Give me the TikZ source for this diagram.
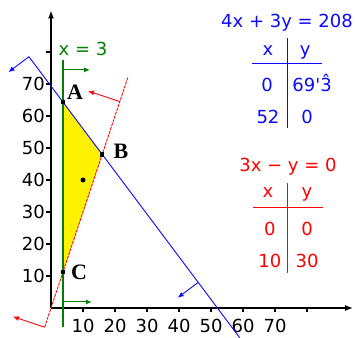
\documentclass[tikz,border=0pt]{standalone}
\usepackage{fontspec}
\setmainfont{DejaVu Sans}
\newfontfamily\serfont{Liberation Serif}
\usetikzlibrary{arrows.meta}
\definecolor{gblue}{RGB}{10,10,255}
\definecolor{gred}{RGB}{255,0,0}
\definecolor{ggreen}{RGB}{0,128,0}
\newcommand{\hatthree}{\ooalign{3\cr\hidewidth\raisebox{0.22em}{\char"02C6}\hidewidth}}

\begin{document}
\begin{tikzpicture}[x=3.2pt, y=3.2pt,
    txt/.style={font=\fontsize{18}{20}\selectfont, inner sep=0pt, anchor=base},
    lbl/.style={font=\serfont\bfseries\fontsize{22}{24}\selectfont, inner sep=0pt},
    pt/.style={rectangle, fill=black, minimum size=4.5pt, inner sep=0pt},
    arr/.style={-{Latex[length=6pt,width=5pt]}},
    axis/.style={line width=1.6pt, -{Latex[length=8pt,width=6pt]}},
    lne/.style={line width=0.9pt}
  ]
  \useasboundingbox (-15.94,-9.375) rectangle (95,96.25);

  % feasible region
  \coordinate (A) at (3.75,64.33);
  \coordinate (B) at (16,48);
  \coordinate (C) at (3.75,11.25);
  \fill[yellow] (A) -- (B) -- (C) -- cycle;

  % axes
  \draw[axis] (0,0) -- (0,93);
  \draw[axis] (0,0) -- (94.4,0);
  \foreach \v in {10,20,...,80} {
    \draw[line width=1.2pt] (0,\v) -- (-1.6,\v);
    \draw[line width=1.2pt] (\v,0) -- (\v,-1.3);
  }
  \foreach \v in {10,20,...,70} {
    \node[txt, anchor=east] (ylab\v) at (-1.9,\v) {\v};
    \node[txt] (xlab\v) at (\v,-7.8) {\v};
  }

  % 4x + 3y = 208
  \coordinate (b1) at (-6.9,78.53);
  \coordinate (b2) at (59,-9.33);
  \coordinate (b1s) at (-13.3,73.7);
  \coordinate (bm) at (46,8);
  \coordinate (bms) at (39.6,3.2);
  \draw[lne, gblue] (b1) -- (b2);
  \draw[lne, gblue, arr] (b1) -- (b1s);
  \draw[lne, gblue, arr] (bm) -- (bms);

  % 3x - y = 0
  \coordinate (r1) at (-2,-6);
  \coordinate (r2) at (24.1,72.3);
  \coordinate (r1s) at (-11.9,-2.7);
  \coordinate (rm) at (21.5,64.5);
  \coordinate (rms) at (11.6,67.8);
  \draw[lne, gred, dash pattern=on 3pt off 1pt] (r1) -- (r2);
  \draw[lne, gred, arr] (r1) -- (r1s);
  \draw[lne, gred, arr] (rm) -- (rms);

  % x = 3
  \coordinate (g1) at (3.75,77.5);
  \coordinate (g2) at (3.75,-5.9);
  \coordinate (gt) at (3.75,74.4);
  \coordinate (gte) at (12.2,74.4);
  \coordinate (gb) at (3.75,1.9);
  \coordinate (gbe) at (12.8,1.9);
  \draw[ggreen, line width=1.5pt] (g1) -- (g2);
  \draw[ggreen, line width=1pt, arr] (gt) -- (gte);
  \draw[ggreen, line width=1pt, arr] (gb) -- (gbe);
  \node[txt, ggreen] (geq) at (10,79.06) {x = 3};

  % vertices
  \node[pt] (pA) at (A) {};
  \node[pt] (pB) at (B) {};
  \node[pt] (pC) at (C) {};
  \node[circle, fill=black, minimum size=5pt, inner sep=0pt] (P) at (10,40) {};
  \node[lbl] (labA) at (7.5,67.5) {A};
  \node[lbl] (labB) at (21.9,49.1) {B};
  \node[lbl] (labC) at (8.75,11.25) {C};

  % table for 4x + 3y = 208
  \node[txt, gblue] (beq) at (73.75,87.5) {4x + 3y = 208};
  \node[txt, gblue] (bhx) at (67.8,79.06) {x};
  \node[txt, gblue] (bhy) at (79.4,79.06) {y};
  \node[txt, gblue] (bx1) at (67.5,67.5) {0};
  \node[txt, gblue] (by1) at (81.6,67.5) {69\textquotesingle\hatthree};
  \node[txt, gblue] (bx2) at (67.8,57.8) {52};
  \node[txt, gblue] (by2) at (80,57.8) {0};
  \draw[gblue, line width=1pt] (73.75,84.4) -- (73.75,56.25);
  \draw[gblue, line width=1pt] (62.8,76.56) -- (84.7,76.56);

  % table for 3x - y = 0
  \node[txt, gred] (req) at (74.06,42.5) {3x − y = 0};
  \node[txt, gred] (rhx) at (67.8,34.4) {x};
  \node[txt, gred] (rhy) at (80,34.4) {y};
  \node[txt, gred] (rx1) at (68.4,22.8) {0};
  \node[txt, gred] (ry1) at (80,22.8) {0};
  \node[txt, gred] (rx2) at (68.4,12.8) {10};
  \node[txt, gred] (ry2) at (80,12.8) {30};
  \draw[gred, line width=1pt] (74.06,39.06) -- (74.06,10.94);
  \draw[gred, line width=1pt] (63.1,31.56) -- (85,31.56);
\end{tikzpicture}
\end{document}
